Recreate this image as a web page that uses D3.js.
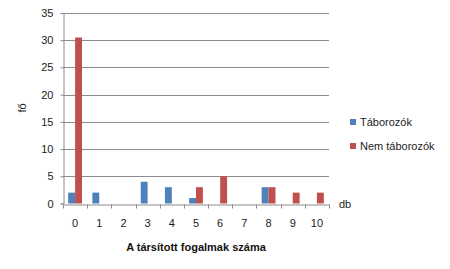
<!DOCTYPE html>
<html>
<head>
<meta charset="utf-8">
<script src="https://cdn.jsdelivr.net/npm/d3@7"></script>
<style>
  body { margin: 0; background: #fff; }
  svg { display: block; font-family: "Liberation Sans", Arial, sans-serif; }
</style>
</head>
<body>
<div id="chart"></div>
<script>
const categories = ["0", "1", "2", "3", "4", "5", "6", "7", "8", "9", "10"];
const taborozok = [2, 2, 0, 4, 3, 1, 0, 0, 3, 0, 0];
const nemTaborozok = [30.5, 0, 0, 0, 0, 3, 5, 0, 3, 2, 2];
const seriesNames = ["Táborozók", "Nem táborozók"];
const seriesColors = ["#4F81BD", "#C0504D"];
const yTicks = [0, 5, 10, 15, 20, 25, 30, 35];

const width = 450, height = 269;
const margin = { top: 13, left: 63, right: 121, bottom: 66 };

const svg = d3.select("#chart").append("svg")
    .attr("width", width)
    .attr("height", height);

const x = d3.scaleBand()
    .domain(categories)
    .range([margin.left, width - margin.right]);

const inner = d3.scaleBand()
    .domain(seriesNames)
    .range([0, x.bandwidth()])
    .paddingInner(0)
    .paddingOuter(0.75);

const y = d3.scaleLinear()
    .domain([0, 35])
    .range([height - margin.bottom + 0.5, margin.top]);

// ── Gridlines ──
svg.append("g")
    .selectAll("line")
    .data(yTicks.filter(d => d > 0))
    .join("line")
    .attr("x1", margin.left)
    .attr("x2", width - margin.right)
    .attr("y1", d => Math.round(y(d)) + 0.5)
    .attr("y2", d => Math.round(y(d)) + 0.5)
    .attr("stroke", "#8c8c8c")
    .attr("stroke-width", 1);

// ── Bars ──
const groups = categories.map((c, i) => ({ c, vals: [taborozok[i], nemTaborozok[i]] }));
svg.append("g")
    .selectAll("g")
    .data(groups)
    .join("g")
    .attr("transform", d => `translate(${x(d.c)},0)`)
    .selectAll("rect")
    .data(d => d.vals.map((v, j) => ({ v, j })))
    .join("rect")
    .attr("x", d => inner(seriesNames[d.j]))
    .attr("width", inner.bandwidth())
    .attr("y", d => y(d.v))
    .attr("height", d => y(0) - y(d.v))
    .attr("fill", d => seriesColors[d.j]);

// ── Y axis ──
const yAxis = svg.append("g")
    .attr("transform", `translate(${margin.left + 0.5},0)`)
    .call(d3.axisLeft(y).tickValues(yTicks).tickSize(3).tickPadding(7));
yAxis.selectAll("path, line").attr("stroke", "#8c8c8c");
yAxis.selectAll("text").attr("font-size", 11).attr("fill", "#222")
    .attr("font-family", "Liberation Sans, Arial, sans-serif");

// ── X axis ──
const xAxis = svg.append("g")
    .attr("transform", `translate(0,${Math.round(y(0)) + 0.5})`)
    .call(d3.axisBottom(x).tickSize(0).tickPadding(15));
xAxis.select("path").attr("stroke", "#8c8c8c");
xAxis.selectAll("text").attr("font-size", 11).attr("fill", "#222")
    .attr("font-family", "Liberation Sans, Arial, sans-serif");
// ticks between categories
xAxis.append("g")
    .selectAll("line")
    .data(categories.map(c => x(c)).concat([x.range()[1]]))
    .join("line")
    .attr("x1", d => Math.round(d) + 0.5)
    .attr("x2", d => Math.round(d) + 0.5)
    .attr("y1", 0)
    .attr("y2", 4)
    .attr("stroke", "#8c8c8c");

// ── Axis titles ──
svg.append("text")
    .attr("x", (x.range()[0] + x.range()[1]) / 2)
    .attr("y", 251)
    .attr("text-anchor", "middle")
    .attr("font-size", 11)
    .attr("font-weight", "bold")
    .attr("fill", "#111")
    .text("A társított fogalmak száma");

svg.append("text")
    .attr("transform", "translate(26,108) rotate(-90)")
    .attr("text-anchor", "middle")
    .attr("font-size", 11)
    .attr("fill", "#222")
    .text("fő");

svg.append("text")
    .attr("x", 339)
    .attr("y", 208)
    .attr("font-size", 11)
    .attr("fill", "#222")
    .text("db");

// ── Legend ──
const legend = svg.append("g")
    .selectAll("g")
    .data(seriesNames)
    .join("g")
    .attr("transform", (d, i) => `translate(350,${119 + i * 24})`);
legend.append("rect")
    .attr("width", 6)
    .attr("height", 6)
    .attr("fill", (d, i) => seriesColors[i]);
legend.append("text")
    .attr("x", 10)
    .attr("y", 7)
    .attr("font-size", 11)
    .attr("fill", "#222")
    .text(d => d);
</script>
</body>
</html>
